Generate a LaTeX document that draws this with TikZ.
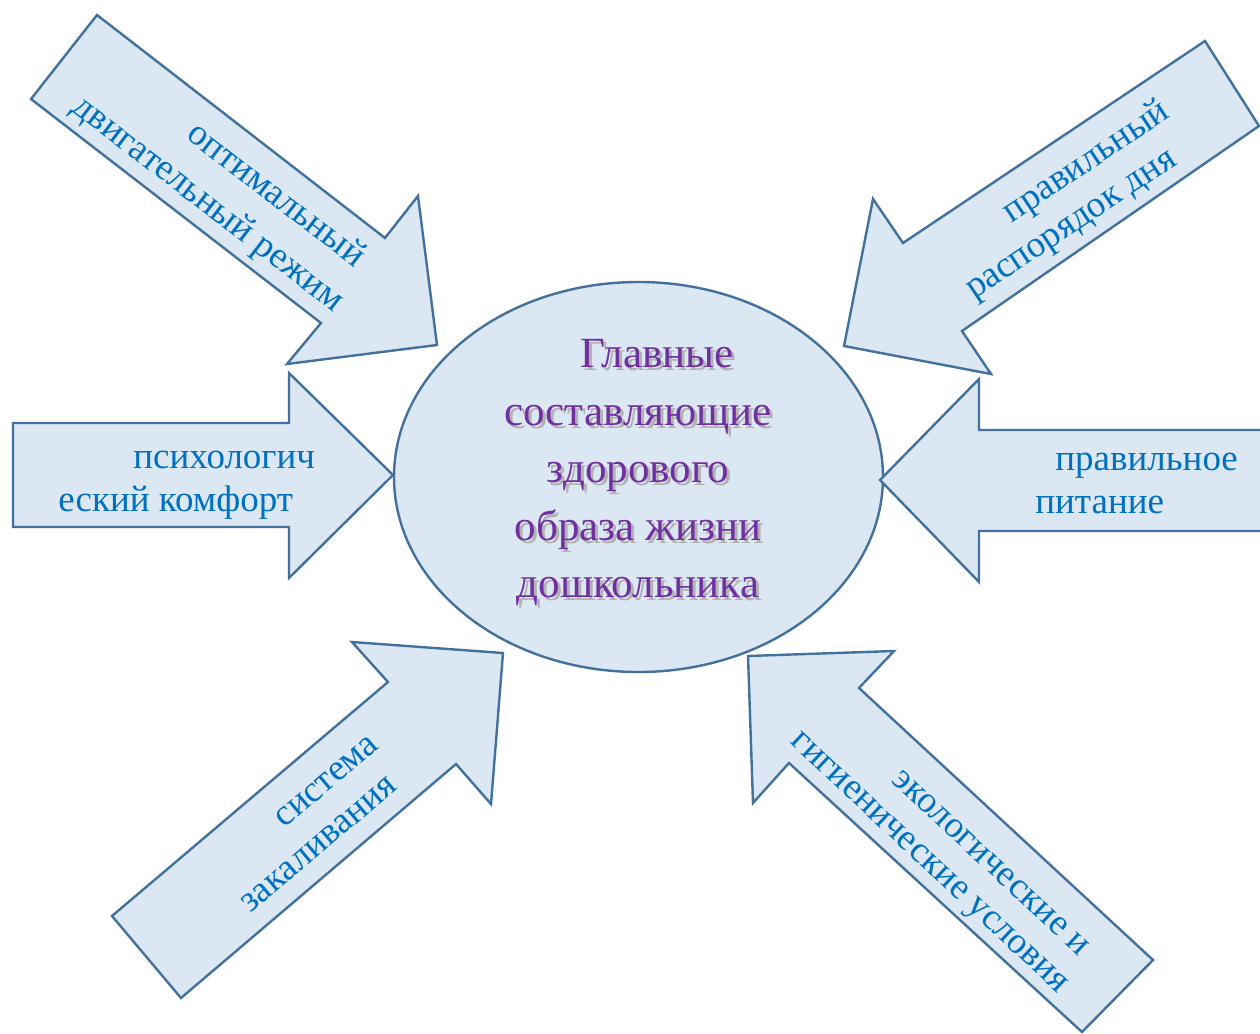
\documentclass[tikz,border=0pt]{standalone}
\usepackage{fontspec}
\setmainfont{Liberation Serif}
\usepackage{xcolor}
\usetikzlibrary{shapes.geometric}
\definecolor{arrowfill}{HTML}{DCE7F4}
\definecolor{arrowline}{HTML}{41719C}
\definecolor{labelblue}{HTML}{0070C0}
\definecolor{titlepurple}{HTML}{7030A0}
\tikzset{
    blockarrow/.style={draw=arrowline, line width=1.2pt, fill=arrowfill, line join=miter},
    hub/.style={ellipse, draw=arrowline, line width=1.2pt, fill=arrowfill, inner sep=0pt, minimum width=244.5pt, minimum height=195pt},
    arrowtext/.style={font=\fontsize{18.5}{21.5}\selectfont, text=labelblue, inner sep=0pt, align=left, anchor=west},
    titletext/.style={font=\fontsize{21.5}{28.75}\selectfont, inner sep=0pt, align=center}
}

\begin{document}
\begin{tikzpicture}[x=0.5pt, y=-0.5pt]
    \useasboundingbox (0,0) rectangle (1260,1034);

    % Centre
    \node[hub] (core) at (638.5,477) {};
    \node[titletext, text=black!30] (titleshadow) at (641,476) {\hspace*{19pt}Главные\\составляющие\\здорового\\образа жизни\\дошкольника};
    \node[titletext, text=titlepurple] (title) at (638,473) {\hspace*{19pt}Главные\\составляющие\\здорового\\образа жизни\\дошкольника};

    % Block arrows
    \draw[blockarrow] (97,15) -- (385,238) -- (418,196) -- (437,345) -- (287,364) -- (321,323) -- (31,99) -- cycle;
    \draw[blockarrow] (1205,41) -- (1259,126) -- (962,331) -- (991,374) -- (844,346) -- (873,199) -- (903,243) -- cycle;
    \draw[blockarrow] (13,423) -- (289,423) -- (289,373) -- (393,475) -- (289,578) -- (289,527) -- (13,527) -- cycle;
    \draw[blockarrow] (1275,430) -- (979,430) -- (979,379) -- (880,480) -- (979,582) -- (979,531) -- (1275,531) -- cycle;
    \draw[blockarrow] (112,916) -- (388,682) -- (352,642) -- (503,653) -- (491,804) -- (456,764) -- (181,998) -- cycle;
    \draw[blockarrow] (1153,960) -- (859,688) -- (894,651) -- (748,656) -- (753,803) -- (789,763) -- (1082,1032) -- cycle;

    % Labels
    \node[arrowtext, rotate=-37.5, font=\fontsize{18.5}{24}\selectfont] (motion) at (90,84) {\hspace*{54pt}оптимальный\\двигательный режим};
    \node[arrowtext, rotate=33.7] (routine) at (957,275) {\hspace*{37pt}правильный\\распорядок дня};
    \node[arrowtext] (comfort) at (58,485) {\hspace*{37.5pt}психологич\\еский комфорт};
    \node[arrowtext] (food) at (1035,483) {\hspace*{10pt}правильное\\питание};
    \node[arrowtext, rotate=40.3] (hardening) at (231,891) {\hspace*{40.5pt}система\\закаливания};
    \node[arrowtext, rotate=-43, font=\fontsize{18.5}{20.5}\selectfont] (hygiene) at (806,724) {\hspace*{50.5pt}экологические и\\гигиенические условия};

\end{tikzpicture}
\end{document}
